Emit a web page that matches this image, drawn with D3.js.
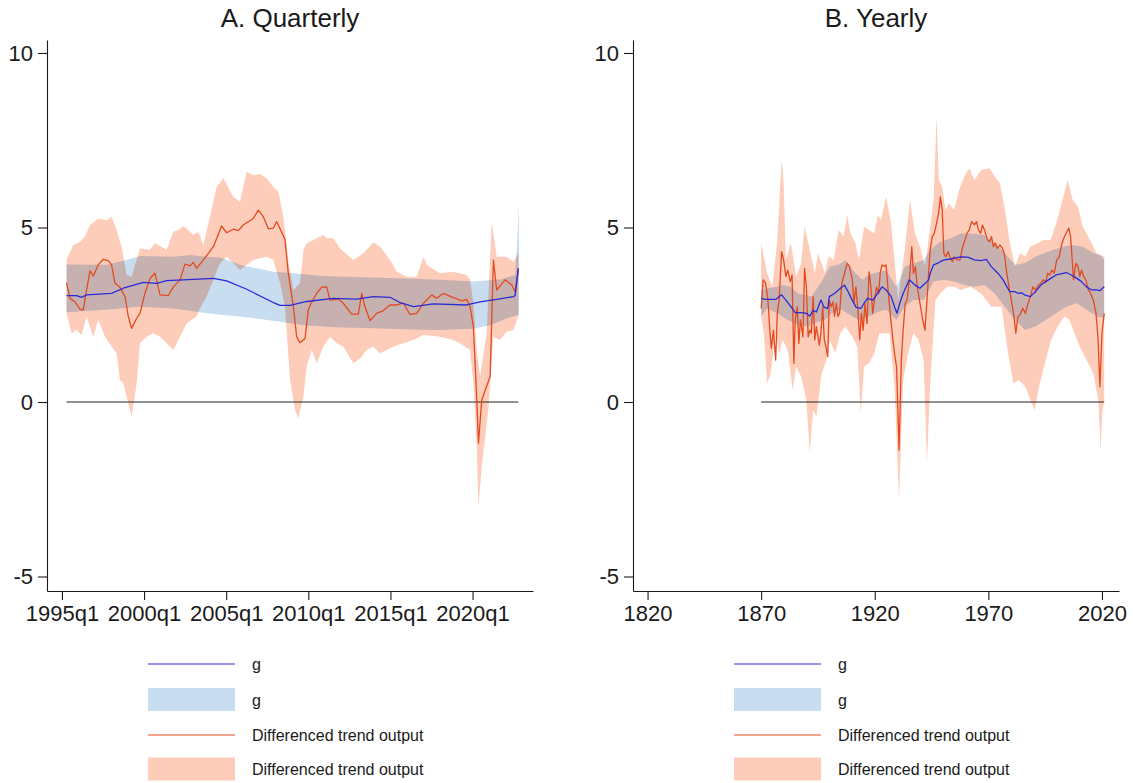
<!DOCTYPE html>
<html>
<head>
<meta charset="utf-8">
<script src="https://cdn.jsdelivr.net/npm/d3@7"></script>
<style>
  body { margin: 0; background: #fff; }
  svg { display: block; }
  text { font-family: "Liberation Sans", Arial, Helvetica, sans-serif; fill: #1a1a1a; }
</style>
</head>
<body>
<svg id="chart" width="1133" height="783"></svg>
<script>
// ---------- Panel A: quarterly series, [decimal year, value] ----------
const qG = [[1995.28,3.05],[1995.89,3.05],[1996.20,3.00],[1996.50,3.07],[1998.02,3.11],[1998.74,3.26],[1999.95,3.43],[2000.77,3.40],[2001.37,3.48],[2002.39,3.50],[2004.22,3.54],[2005.03,3.47],[2006.25,3.23],[2007.87,2.85],[2008.28,2.77],[2008.89,2.77],[2009.90,2.88],[2011.52,2.97],[2012.95,2.95],[2013.96,3.02],[2014.98,3.00],[2015.58,2.85],[2016.40,2.73],[2017.61,2.81],[2019.64,2.78],[2020.46,2.87],[2021.47,2.94],[2022.49,3.02],[2022.59,3.05],[2022.79,3.83]];
const qGHi = [[1995.28,3.94],[1997.72,3.93],[1998.94,4.07],[1999.75,4.18],[2001.78,4.16],[2002.80,4.21],[2003.81,4.16],[2004.62,4.14],[2005.84,3.93],[2007.87,3.73],[2009.09,3.69],[2010.92,3.61],[2013.96,3.57],[2015.99,3.54],[2018.02,3.50],[2020.05,3.45],[2021.67,3.51],[2022.59,3.64],[2022.69,4.40],[2022.83,5.69]];
const qGLo = [[1995.28,2.57],[1997.72,2.64],[1999.75,2.73],[2001.78,2.68],[2003.40,2.57],[2004.62,2.50],[2005.84,2.45],[2007.06,2.38],[2008.28,2.30],[2009.70,2.20],[2011.52,2.14],[2013.96,2.11],[2016.19,2.08],[2018.02,2.06],[2020.05,2.10],[2021.07,2.20],[2021.98,2.38],[2022.83,2.50]];
const qD = [[1995.28,3.42],[1995.49,2.97],[1995.79,2.87],[1996.10,2.66],[1996.30,2.64],[1996.50,3.21],[1996.71,3.76],[1996.91,3.61],[1997.21,3.93],[1997.52,4.09],[1997.82,4.05],[1998.02,3.93],[1998.23,3.40],[1998.53,3.29],[1998.84,3.02],[1999.04,2.45],[1999.24,2.11],[1999.55,2.40],[1999.75,2.54],[2000.05,3.11],[2000.36,3.54],[2000.66,3.69],[2000.97,3.07],[2001.48,3.05],[2001.78,3.30],[2002.19,3.50],[2002.49,3.95],[2002.80,3.90],[2003.00,4.00],[2003.20,3.83],[2003.61,4.07],[2004.22,4.45],[2004.72,5.04],[2005.03,4.85],[2005.43,4.95],[2005.74,4.91],[2006.04,5.07],[2006.65,5.26],[2006.96,5.50],[2007.26,5.31],[2007.57,4.96],[2007.87,4.98],[2008.07,5.17],[2008.58,4.66],[2008.78,3.69],[2009.09,2.73],[2009.29,1.87],[2009.49,1.70],[2009.80,1.82],[2010.00,2.64],[2010.21,2.87],[2010.51,3.11],[2010.81,3.29],[2011.12,3.30],[2011.32,2.92],[2011.83,2.95],[2012.13,2.83],[2012.64,2.52],[2013.05,2.52],[2013.25,3.11],[2013.45,2.73],[2013.76,2.33],[2014.16,2.54],[2014.57,2.62],[2014.98,2.78],[2015.38,2.78],[2015.79,2.83],[2016.19,2.51],[2016.60,2.54],[2017.01,2.83],[2017.51,3.07],[2017.82,2.97],[2018.22,3.11],[2018.83,2.99],[2019.34,2.90],[2019.64,2.94],[2019.85,2.73],[2020.05,2.16],[2020.25,0.15],[2020.36,-1.18],[2020.56,0.06],[2021.07,0.73],[2021.27,4.07],[2021.47,3.21],[2021.98,3.50],[2022.39,3.35],[2022.59,3.16],[2022.79,3.83]];
const qDHi = [[1995.28,4.07],[1995.69,4.50],[1996.10,4.59],[1996.40,4.74],[1996.71,5.07],[1997.21,5.26],[1997.72,5.21],[1998.02,5.31],[1998.33,4.93],[1998.63,4.45],[1998.94,3.64],[1999.24,3.59],[1999.75,4.40],[2000.36,4.36],[2000.66,4.55],[2001.37,4.36],[2001.78,4.88],[2002.08,4.93],[2002.39,5.04],[2003.00,4.79],[2003.30,4.88],[2003.61,4.50],[2004.01,5.31],[2004.42,6.17],[2004.83,6.41],[2005.43,5.88],[2005.84,5.74],[2006.25,6.60],[2006.65,6.50],[2007.06,6.53],[2007.46,6.41],[2007.87,6.17],[2008.18,6.03],[2008.48,5.31],[2008.78,4.07],[2009.09,3.21],[2009.49,3.40],[2009.70,4.36],[2009.90,4.55],[2010.92,4.79],[2011.12,4.69],[2011.52,4.69],[2011.93,4.40],[2012.74,4.07],[2013.35,4.26],[2013.96,4.57],[2014.37,4.45],[2014.98,4.07],[2015.38,3.73],[2015.99,3.59],[2016.60,3.59],[2017.01,4.16],[2017.21,3.93],[2018.02,3.69],[2018.83,3.73],[2019.64,3.64],[2019.85,3.50],[2020.05,2.83],[2020.25,1.49],[2020.46,0.73],[2020.86,2.00],[2021.17,5.17],[2021.47,4.16],[2022.08,4.16],[2022.49,4.02],[2022.79,4.26]];
const qDLo = [[1995.28,2.54],[1995.59,1.97],[1995.89,2.06],[1996.20,1.92],[1996.50,2.45],[1996.91,1.87],[1997.21,2.35],[1997.62,1.87],[1998.02,1.59],[1998.33,1.39],[1998.53,0.63],[1998.74,0.53],[1999.04,-0.04],[1999.24,-0.42],[1999.55,0.53],[1999.75,1.68],[2000.16,1.87],[2000.56,1.97],[2000.97,1.87],[2001.37,1.68],[2001.78,1.49],[2002.19,1.87],[2002.59,2.25],[2003.20,2.45],[2003.40,2.68],[2003.81,3.02],[2004.62,3.97],[2005.03,4.16],[2005.84,3.78],[2006.65,4.07],[2007.46,4.16],[2007.87,4.07],[2008.28,3.40],[2008.58,2.73],[2008.89,0.63],[2009.19,-0.23],[2009.39,-0.47],[2009.70,0.15],[2009.90,1.01],[2010.21,1.49],[2010.51,1.11],[2010.92,1.59],[2011.32,1.87],[2011.73,1.68],[2012.13,1.59],[2012.74,1.11],[2013.15,1.25],[2013.55,1.49],[2013.96,1.59],[2014.37,1.39],[2015.18,1.59],[2015.79,1.68],[2016.40,1.78],[2017.01,1.92],[2018.02,1.87],[2018.83,1.78],[2019.24,1.68],[2019.85,1.49],[2020.05,0.53],[2020.25,-1.18],[2020.36,-3.00],[2020.56,-1.85],[2020.96,-0.23],[2021.27,1.87],[2021.67,1.78],[2022.08,2.02],[2022.49,2.06],[2022.79,2.45]];

// ---------- Panel B: yearly series, [year, value] ----------
const yG = [[1870.0,2.97],[1871.9,2.94],[1876.4,2.94],[1879.0,3.07],[1880.9,2.92],[1883.1,2.73],[1885.0,2.56],[1887.6,2.56],[1889.9,2.54],[1891.4,2.46],[1892.9,2.63],[1894.3,2.58],[1896.3,2.92],[1897.8,2.71],[1899.3,2.68],[1900.0,3.02],[1902.3,3.11],[1904.4,3.23],[1906.7,3.35],[1908.3,3.16],[1910.1,2.92],[1911.8,2.71],[1913.9,2.68],[1915.3,2.83],[1916.8,2.97],[1919.1,2.92],[1921.3,3.11],[1923.2,3.30],[1925.0,3.21],[1927.2,3.02],[1928.7,2.73],[1929.8,2.54],[1931.0,2.83],[1932.5,3.11],[1935.2,3.50],[1937.7,3.35],[1939.9,3.26],[1942.2,3.40],[1943.7,3.50],[1944.4,3.69],[1945.9,3.93],[1947.5,3.97],[1948.9,4.02],[1950.4,4.07],[1952.7,4.09],[1954.9,4.12],[1957.9,4.16],[1960.9,4.15],[1963.9,4.07],[1966.8,4.05],[1969.1,4.09],[1971.3,3.88],[1974.2,3.69],[1976.5,3.50],[1979.4,3.16],[1981.7,3.16],[1983.2,3.11],[1984.6,3.13],[1986.2,3.06],[1988.5,3.02],[1990.7,3.16],[1993.1,3.35],[1995.3,3.45],[1997.6,3.55],[1999.8,3.64],[2002.0,3.67],[2004.3,3.71],[2006.5,3.64],[2008.8,3.55],[2011.0,3.45],[2013.2,3.30],[2015.5,3.21],[2017.7,3.21],[2019.1,3.19],[2021.0,3.30]];
const yGHi = [[1870.0,3.20],[1872.6,3.26],[1877.1,3.30],[1879.5,3.35],[1883.1,3.30],[1886.2,3.11],[1892.1,3.02],[1896.6,3.45],[1900.3,3.88],[1904.1,3.93],[1907.1,4.07],[1911.5,3.69],[1914.6,3.50],[1917.5,3.65],[1922.0,3.73],[1925.0,3.78],[1929.5,3.30],[1931.0,3.50],[1933.2,3.88],[1937.0,3.97],[1941.5,4.07],[1944.4,4.36],[1948.9,4.59],[1953.4,4.69],[1957.9,4.83],[1963.9,4.83],[1968.3,4.78],[1972.8,4.55],[1977.3,4.26],[1981.7,3.93],[1986.2,3.98],[1990.7,4.17],[1996.6,4.31],[2002.6,4.45],[2007.1,4.50],[2011.6,4.45],[2016.2,4.26],[2019.1,4.21],[2021.0,4.07]];
const yGLo = [[1870.0,2.45],[1872.6,2.68],[1877.1,2.54],[1881.7,2.35],[1886.2,2.21],[1890.7,2.16],[1895.1,2.30],[1898.1,2.35],[1901.0,2.54],[1905.5,2.64],[1910.1,2.45],[1913.1,2.35],[1917.5,2.45],[1922.0,2.59],[1925.0,2.64],[1929.5,2.35],[1933.2,2.73],[1937.0,2.92],[1941.5,2.92],[1945.9,3.45],[1950.4,3.50],[1954.9,3.45],[1959.4,3.35],[1963.9,3.30],[1968.3,3.35],[1972.8,3.11],[1977.3,2.73],[1981.7,2.35],[1986.2,2.06],[1990.7,2.16],[1995.2,2.35],[1999.8,2.54],[2004.3,2.73],[2008.8,2.83],[2013.2,2.64],[2017.7,2.45],[2021.0,2.40]];
const yD = [[1870.0,2.68],[1870.9,3.50],[1871.9,3.42],[1873.0,2.92],[1873.9,1.97],[1874.5,1.54],[1875.4,2.06],[1876.4,1.20],[1877.1,2.54],[1877.9,2.92],[1879.0,4.31],[1879.9,4.07],[1880.9,3.59],[1881.7,3.78],[1882.8,3.45],[1883.6,3.64],[1884.4,1.11],[1885.0,2.35],[1885.9,2.73],[1886.6,1.68],[1887.3,2.35],[1888.4,1.87],[1889.1,3.83],[1889.9,3.30],[1890.7,1.87],[1891.4,2.06],[1892.1,1.97],[1892.9,3.02],[1893.6,1.78],[1894.3,2.16],[1895.6,1.63],[1896.3,1.97],[1897.1,2.73],[1897.8,1.78],[1898.5,1.59],[1899.3,1.30],[1900.0,2.92],[1900.7,2.73],[1901.6,2.87],[1902.3,2.45],[1903.1,2.83],[1903.8,2.45],[1904.5,2.54],[1905.5,3.40],[1906.7,3.69],[1907.9,3.97],[1908.9,3.88],[1910.1,3.50],[1910.9,2.83],[1911.7,3.30],[1912.7,2.54],[1913.4,1.78],[1914.1,2.54],[1914.9,2.06],[1915.7,2.83],[1916.6,2.25],[1917.5,3.73],[1918.3,3.30],[1919.1,2.54],[1919.9,2.92],[1920.8,3.30],[1921.7,3.11],[1922.4,3.69],[1923.2,3.93],[1924.3,3.88],[1925.0,3.93],[1925.8,3.26],[1926.8,2.54],[1928.0,1.78],[1928.7,1.39],[1929.6,1.01],[1930.7,-1.38],[1931.7,1.20],[1932.5,2.06],[1933.4,2.83],[1934.2,2.92],[1935.2,3.45],[1936.3,4.45],[1937.0,3.69],[1937.9,3.88],[1938.7,3.30],[1939.9,2.83],[1941.1,2.35],[1942.1,2.06],[1943.0,2.92],[1943.7,3.69],[1944.4,4.36],[1945.3,4.74],[1946.2,4.83],[1947.2,5.12],[1948.1,5.41],[1948.9,5.88],[1949.7,5.50],[1950.4,4.26],[1951.3,4.16],[1952.3,4.31],[1953.1,4.16],[1954.2,4.02],[1954.9,4.16],[1956.4,4.07],[1957.5,4.07],[1958.7,4.45],[1959.7,4.64],[1960.6,4.83],[1961.6,4.93],[1962.6,5.17],[1963.9,5.08],[1964.8,5.17],[1965.6,4.93],[1966.6,4.83],[1967.4,5.07],[1968.3,4.93],[1969.6,4.64],[1970.6,4.59],[1971.4,4.74],[1972.2,4.45],[1973.1,4.55],[1974.0,4.40],[1975.1,4.50],[1976.2,4.40],[1977.0,4.26],[1978.1,3.69],[1979.1,3.30],[1980.1,2.92],[1981.1,2.54],[1982.1,1.97],[1983.0,2.45],[1984.0,2.50],[1985.1,2.69],[1986.3,2.54],[1987.5,2.83],[1988.5,3.02],[1989.6,3.30],[1990.7,3.21],[1992.0,3.35],[1993.1,3.40],[1994.1,3.50],[1995.3,3.45],[1996.1,3.69],[1997.0,3.64],[1998.0,3.78],[1999.0,3.69],[2000.1,4.07],[2001.2,4.16],[2002.4,4.55],[2003.5,4.74],[2004.6,4.88],[2005.4,4.98],[2006.2,4.74],[2006.9,4.07],[2007.5,3.50],[2008.5,3.97],[2009.5,3.88],[2010.2,3.59],[2011.0,3.78],[2012.0,3.59],[2012.9,3.50],[2014.0,3.21],[2015.0,3.11],[2016.2,2.92],[2017.4,2.54],[2018.3,1.78],[2019.1,0.44],[2020.0,1.97],[2021.0,2.54]];
const yDHi = [[1870.0,4.55],[1871.2,4.17],[1872.6,3.69],[1874.9,3.30],[1877.1,4.64],[1879.0,6.93],[1879.9,6.27],[1880.9,4.07],[1883.1,4.55],[1885.4,3.59],[1887.6,3.97],[1889.1,5.02],[1891.4,4.36],[1893.6,3.69],[1895.1,4.26],[1898.1,3.69],[1899.6,4.17],[1901.9,4.07],[1904.1,4.93],[1906.3,4.74],[1907.9,5.36],[1909.3,4.83],[1911.5,4.55],[1913.1,4.07],[1915.3,5.02],[1917.5,4.93],[1919.8,4.83],[1921.3,5.36],[1922.7,5.21],[1925.0,5.88],[1927.2,5.12],[1928.7,4.07],[1930.3,2.92],[1931.8,3.69],[1933.2,4.36],[1935.5,5.79],[1937.7,4.83],[1939.9,4.45],[1942.2,3.88],[1944.4,5.02],[1945.9,5.79],[1947.2,8.18],[1948.2,6.36],[1949.7,6.17],[1951.1,5.50],[1952.7,5.69],[1954.9,5.50],[1957.1,6.07],[1959.4,6.46],[1961.6,6.70],[1963.9,6.36],[1966.8,6.65],[1970.6,6.70],[1972.8,6.46],[1975.1,6.27],[1977.3,5.50],[1979.5,4.55],[1981.7,3.88],[1983.9,4.26],[1986.2,4.17],[1988.5,4.45],[1991.5,4.55],[1994.4,4.64],[1997.4,4.64],[2000.3,5.21],[2002.6,5.79],[2004.9,6.36],[2007.1,5.79],[2009.4,5.60],[2011.6,5.02],[2014.7,4.64],[2017.6,4.26],[2021.0,4.17]];
const yDLo = [[1870.0,2.45],[1871.2,1.97],[1872.6,0.53],[1874.2,0.82],[1876.4,1.97],[1877.9,1.39],[1879.5,1.78],[1881.7,1.49],[1883.9,0.34],[1885.4,1.01],[1887.6,0.73],[1889.9,0.06],[1891.4,-1.47],[1892.9,-0.23],[1894.3,-0.42],[1896.6,0.82],[1898.8,1.20],[1900.3,1.78],[1902.6,1.39],[1904.8,1.97],[1907.1,2.16],[1910.1,1.87],[1912.3,1.59],[1913.8,-0.32],[1915.3,1.01],[1917.5,1.11],[1919.8,1.39],[1922.0,1.97],[1924.3,1.97],[1926.5,1.97],[1928.7,0.44],[1930.7,-2.81],[1932.5,0.63],[1934.7,1.39],[1937.0,1.97],[1939.2,1.78],[1941.5,1.20],[1943.0,-1.76],[1944.4,0.53],[1946.7,2.92],[1948.9,3.11],[1951.9,3.30],[1954.9,3.30],[1957.9,3.21],[1962.3,3.30],[1966.8,3.11],[1971.3,2.73],[1975.8,2.73],[1978.7,1.39],[1981.1,0.53],[1983.3,0.63],[1986.3,0.44],[1988.5,0.06],[1990.4,-0.23],[1992.3,0.44],[1994.5,1.01],[1997.6,1.78],[2000.5,2.16],[2003.5,2.45],[2005.7,2.35],[2007.9,1.97],[2010.2,1.59],[2013.2,1.20],[2016.2,0.82],[2018.4,0.06],[2019.4,-1.38],[2020.1,-0.32],[2021.0,0.06]];

// ---------- Axis ticks and labels ----------
const yTickValues = [-5, 0, 5, 10];
const yTickLabels = ["-5", "0", "5", "10"];
const qTickYears = [1995, 2000, 2005, 2010, 2015, 2020];
const qTickLabels = ["1995q1", "2000q1", "2005q1", "2010q1", "2015q1", "2020q1"];
const yrTickYears = [1820, 1870, 1920, 1970, 2020];
const yrTickLabels = ["1820", "1870", "1920", "1970", "2020"];
const legendLabels = ["g", "g", "Differenced trend output", "Differenced trend output"];

// ---------- Styling ----------
const C = {
  gLine: "#2a2ad6",
  gBand: "#c9ddf1",
  dBand: "#fdcdba",
  dLine: "#e44a1f",
  axis: "#1a1a1a"
};

const svg = d3.select("#chart");
const plotTop = 40, plotBottom = 591, plotWidth = 486;
const y = d3.scaleLinear().domain([-5.415, 10.372]).range([plotBottom, plotTop]);

function drawPanel(opt) {
  const left = opt.left, right = left + plotWidth;
  const x = d3.scaleLinear().domain(opt.xDomain).range([left, right]);
  const g = svg.append("g");
  const line = d3.line().x(d => x(d[0])).y(d => y(d[1]));
  const band = (hi, lo) => line(hi.concat(lo.slice().reverse())) + "Z";

  // shaded intervals: blue first, salmon multiplied over it
  const bands = g.append("g").style("isolation", "isolate");
  bands.append("path").attr("d", band(opt.gHi, opt.gLo)).attr("fill", C.gBand);
  bands.append("path").attr("d", band(opt.dHi, opt.dLo)).attr("fill", C.dBand)
    .style("mix-blend-mode", "multiply");

  // zero reference line over the data span
  const x0 = opt.d[0][0], x1 = opt.d[opt.d.length - 1][0];
  g.append("line").attr("x1", x(x0)).attr("x2", x(x1))
    .attr("y1", y(0)).attr("y2", y(0))
    .attr("stroke", "#222").attr("stroke-width", 1);

  g.append("path").attr("d", line(opt.d)).attr("fill", "none")
    .attr("stroke", C.dLine).attr("stroke-width", 1.3).attr("stroke-linejoin", "round");
  g.append("path").attr("d", line(opt.g)).attr("fill", "none")
    .attr("stroke", C.gLine).attr("stroke-width", 1.3).attr("stroke-linejoin", "round");

  // axes
  const yAxis = g.append("g").attr("transform", `translate(${left},0)`)
    .call(d3.axisLeft(y).tickValues(yTickValues).tickSize(9).tickSizeOuter(0).tickPadding(5)
      .tickFormat((d, i) => yTickLabels[i]));
  const xAxis = g.append("g").attr("transform", `translate(0,${plotBottom})`)
    .call(d3.axisBottom(x).tickValues(opt.ticks).tickSize(9).tickSizeOuter(0).tickPadding(5)
      .tickFormat((d, i) => opt.tickLabels[i]));
  [yAxis, xAxis].forEach(a => {
    a.selectAll("path,line").attr("stroke", C.axis).attr("stroke-width", 1.1);
    a.selectAll("text").style("font-size", "22px").attr("fill", C.axis);
  });

  // title
  g.append("text").attr("x", (left + right) / 2).attr("y", 27)
    .attr("text-anchor", "middle").style("font-size", "26px").text(opt.title);

  // legend
  const keyX = left + 101, keyW = 87, textX = left + 205;
  const rows = [664, 699.5, 735, 769];
  const lg = g.append("g");
  lg.append("line").attr("x1", keyX).attr("x2", keyX + keyW).attr("y1", rows[0]).attr("y2", rows[0])
    .attr("stroke", C.gLine).attr("stroke-width", 1.1);
  lg.append("rect").attr("x", keyX).attr("y", rows[1] - 11.5).attr("width", keyW).attr("height", 23)
    .attr("fill", C.gBand);
  lg.append("line").attr("x1", keyX).attr("x2", keyX + keyW).attr("y1", rows[2]).attr("y2", rows[2])
    .attr("stroke", C.dLine).attr("stroke-width", 1.1);
  lg.append("rect").attr("x", keyX).attr("y", rows[3] - 11.5).attr("width", keyW).attr("height", 23)
    .attr("fill", C.dBand);
  legendLabels.forEach((t, i) => {
    lg.append("text").attr("x", textX).attr("y", rows[i] + 6)
      .style("font-size", "16px").text(t);
  });
}

drawPanel({
  left: 47, title: "A. Quarterly",
  xDomain: [1994.09, 2023.68],
  ticks: qTickYears, tickLabels: qTickLabels,
  g: qG, gHi: qGHi, gLo: qGLo, d: qD, dHi: qDHi, dLo: qDLo
});

drawPanel({
  left: 633, title: "B. Yearly",
  xDomain: [1813.6, 2027.5],
  ticks: yrTickYears, tickLabels: yrTickLabels,
  g: yG, gHi: yGHi, gLo: yGLo, d: yD, dHi: yDHi, dLo: yDLo
});
</script>
</body>
</html>
